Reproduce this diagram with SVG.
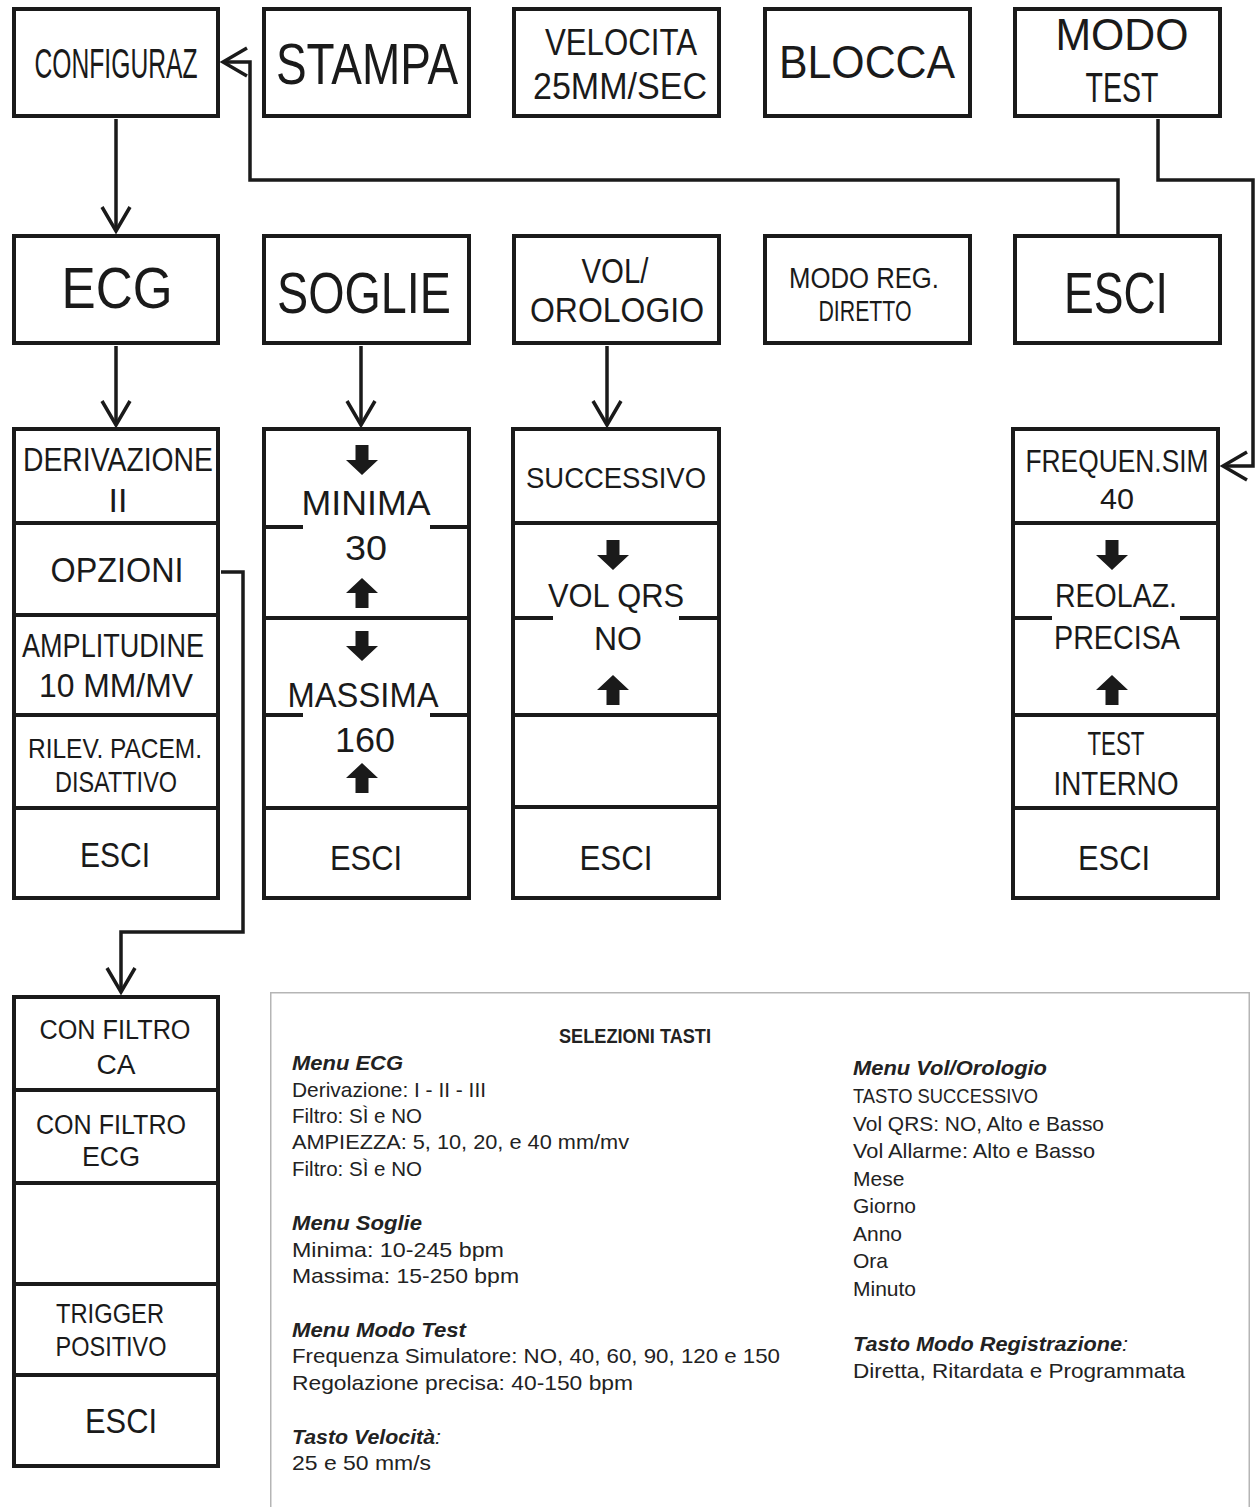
<svg xmlns="http://www.w3.org/2000/svg" width="1256" height="1507" viewBox="0 0 1256 1507">
<style>
.box{fill:#fff;stroke:#1a1a1a;stroke-width:4}
.div{stroke:#1a1a1a;stroke-width:4;fill:none}
.lbl{font-family:"Liberation Sans",Arial,sans-serif;fill:#1a1a1a;text-anchor:middle}
.con{fill:none;stroke:#1a1a1a;stroke-width:3.5;stroke-linejoin:miter}
.lg{font-family:"Liberation Sans",Arial,sans-serif;font-size:21px;fill:#222}
.lh{font-weight:bold;font-style:italic}
</style>
<defs>
<marker id="chev" viewBox="-28 -17 31 34" markerWidth="31" markerHeight="34" refX="0" refY="0" orient="auto" markerUnits="userSpaceOnUse">
<path d="M-24,-14 L0,0 L-24,14" fill="none" stroke="#1a1a1a" stroke-width="3.5"/>
</marker>
<path id="dn" d="M-6.5,0 H6.5 V15 H16 L0,30 L-16,15 H-6.5 Z" fill="#1a1a1a"/>
<path id="up" d="M-6.5,30 H6.5 V15 H16 L0,0 L-16,15 H-6.5 Z" fill="#1a1a1a"/>
</defs>
<rect width="1256" height="1507" fill="#fff"/>

<g id="connectors">
<path class="con" d="M116,119 V231" marker-end="url(#chev)"/>
<path class="con" d="M1118,234 V180 H250 V62 H223" marker-end="url(#chev)"/>
<path class="con" d="M1158,119 V180 H1253 V466 H1223" marker-end="url(#chev)"/>
<path class="con" d="M116,346 V425" marker-end="url(#chev)"/>
<path class="con" d="M361,346 V425" marker-end="url(#chev)"/>
<path class="con" d="M607,346 V425" marker-end="url(#chev)"/>
<path class="con" d="M221,572 H243 V932 H121 V992" marker-end="url(#chev)"/>
</g>

<g id="configuraz">
<rect class="box" x="14" y="9" width="204" height="107"/>
<text class="lbl" transform="translate(116,78) scale(0.574,1)" x="0" y="0" font-size="43" textLength="284" lengthAdjust="spacingAndGlyphs">CONFIGURAZ</text>
</g>
<g id="stampa">
<rect class="box" x="264" y="9" width="205" height="107"/>
<text class="lbl" transform="translate(367,84) scale(0.778,1)" x="0" y="0" font-size="57" textLength="234" lengthAdjust="spacingAndGlyphs">STAMPA</text>
</g>
<g id="velocita">
<rect class="box" x="514" y="9" width="205" height="107"/>
<text class="lbl" x="621" y="55" font-size="37" textLength="152" lengthAdjust="spacingAndGlyphs">VELOCITA</text>
<text class="lbl" x="620" y="99" font-size="37" textLength="174" lengthAdjust="spacingAndGlyphs">25MM/SEC</text>
</g>
<g id="blocca">
<rect class="box" x="765" y="9" width="205" height="107"/>
<text class="lbl" x="867" y="78" font-size="46" textLength="176" lengthAdjust="spacingAndGlyphs">BLOCCA</text>
</g>
<g id="modo-test">
<rect class="box" x="1015" y="9" width="205" height="107"/>
<text class="lbl" x="1122" y="50" font-size="44" textLength="133" lengthAdjust="spacingAndGlyphs">MODO</text>
<text class="lbl" x="1122" y="102" font-size="42" textLength="73" lengthAdjust="spacingAndGlyphs">TEST</text>
</g>

<g id="ecg">
<rect class="box" x="14" y="236" width="204" height="107"/>
<text class="lbl" x="117" y="308" font-size="57" textLength="111" lengthAdjust="spacingAndGlyphs">ECG</text>
</g>
<g id="soglie">
<rect class="box" x="264" y="236" width="205" height="107"/>
<text class="lbl" x="364" y="313" font-size="57" textLength="174" lengthAdjust="spacingAndGlyphs">SOGLIE</text>
</g>
<g id="vol-orologio">
<rect class="box" x="514" y="236" width="205" height="107"/>
<text class="lbl" x="615" y="283" font-size="35" textLength="67" lengthAdjust="spacingAndGlyphs">VOL/</text>
<text class="lbl" x="617" y="322" font-size="35" textLength="174" lengthAdjust="spacingAndGlyphs">OROLOGIO</text>
</g>
<g id="modo-reg">
<rect class="box" x="765" y="236" width="205" height="107"/>
<text class="lbl" x="864" y="288" font-size="30" textLength="150" lengthAdjust="spacingAndGlyphs">MODO REG.</text>
<text class="lbl" x="865" y="321" font-size="30" textLength="93" lengthAdjust="spacingAndGlyphs">DIRETTO</text>
</g>
<g id="esci-top">
<rect class="box" x="1015" y="236" width="205" height="107"/>
<text class="lbl" x="1116" y="313" font-size="57" textLength="104" lengthAdjust="spacingAndGlyphs">ESCI</text>
</g>

<g id="menu-ecg">
<rect class="box" x="14" y="429" width="204" height="469"/>
<path class="div" d="M12,523 H220 M12,615 H220 M12,715 H220 M12,808 H220"/>
<text class="lbl" x="118" y="471" font-size="34" textLength="190" lengthAdjust="spacingAndGlyphs">DERIVAZIONE</text>
<text class="lbl" x="118" y="512" font-size="34">II</text>
<text class="lbl" x="117" y="582" font-size="35" textLength="133" lengthAdjust="spacingAndGlyphs">OPZIONI</text>
<text class="lbl" x="113" y="657" font-size="34" textLength="182" lengthAdjust="spacingAndGlyphs">AMPLITUDINE</text>
<text class="lbl" x="116" y="697" font-size="34" textLength="154" lengthAdjust="spacingAndGlyphs">10 MM/MV</text>
<text class="lbl" x="115" y="758" font-size="28" textLength="174" lengthAdjust="spacingAndGlyphs">RILEV. PACEM.</text>
<text class="lbl" x="116" y="792" font-size="30" textLength="122" lengthAdjust="spacingAndGlyphs">DISATTIVO</text>
<text class="lbl" x="115" y="867" font-size="35" textLength="70" lengthAdjust="spacingAndGlyphs">ESCI</text>
</g>

<g id="menu-soglie">
<rect class="box" x="264" y="429" width="205" height="469"/>
<path class="div" d="M262,527 H303 M430,527 H471 M262,618 H471 M262,715 H303 M430,715 H471 M262,808 H471"/>
<use href="#dn" x="362" y="445"/>
<text class="lbl" x="366" y="515" font-size="35" textLength="129" lengthAdjust="spacingAndGlyphs">MINIMA</text>
<text class="lbl" x="366" y="560" font-size="35" textLength="42" lengthAdjust="spacingAndGlyphs">30</text>
<use href="#up" x="362" y="578"/>
<use href="#dn" x="362" y="631"/>
<text class="lbl" x="363" y="707" font-size="35" textLength="151" lengthAdjust="spacingAndGlyphs">MASSIMA</text>
<text class="lbl" x="365" y="752" font-size="35" textLength="60" lengthAdjust="spacingAndGlyphs">160</text>
<use href="#up" x="362" y="763"/>
<text class="lbl" x="366" y="870" font-size="35" textLength="72" lengthAdjust="spacingAndGlyphs">ESCI</text>
</g>

<g id="menu-vol">
<rect class="box" x="513" y="429" width="206" height="469"/>
<path class="div" d="M511,523 H721 M511,618 H553 M679,618 H721 M511,715 H721 M511,807 H721"/>
<text class="lbl" x="616" y="488" font-size="30" textLength="180" lengthAdjust="spacingAndGlyphs">SUCCESSIVO</text>
<use href="#dn" x="613" y="540"/>
<text class="lbl" x="616" y="607" font-size="34" textLength="136" lengthAdjust="spacingAndGlyphs">VOL QRS</text>
<text class="lbl" x="618" y="650" font-size="34" textLength="48" lengthAdjust="spacingAndGlyphs">NO</text>
<use href="#up" x="613" y="675"/>
<text class="lbl" x="616" y="870" font-size="35" textLength="73" lengthAdjust="spacingAndGlyphs">ESCI</text>
</g>

<g id="menu-test">
<rect class="box" x="1013" y="429" width="205" height="469"/>
<path class="div" d="M1011,523 H1220 M1011,618 H1052 M1180,618 H1220 M1011,715 H1220 M1011,808 H1220"/>
<text class="lbl" x="1117" y="472" font-size="31" textLength="183" lengthAdjust="spacingAndGlyphs">FREQUEN.SIM</text>
<text class="lbl" x="1117" y="509" font-size="30" textLength="34" lengthAdjust="spacingAndGlyphs">40</text>
<use href="#dn" x="1112" y="540"/>
<text class="lbl" x="1116" y="607" font-size="34" textLength="122" lengthAdjust="spacingAndGlyphs">REOLAZ.</text>
<text class="lbl" x="1117" y="649" font-size="34" textLength="126" lengthAdjust="spacingAndGlyphs">PRECISA</text>
<use href="#up" x="1112" y="675"/>
<text class="lbl" x="1116" y="755" font-size="34" textLength="57" lengthAdjust="spacingAndGlyphs">TEST</text>
<text class="lbl" x="1116" y="795" font-size="34" textLength="125" lengthAdjust="spacingAndGlyphs">INTERNO</text>
<text class="lbl" x="1114" y="870" font-size="35" textLength="72" lengthAdjust="spacingAndGlyphs">ESCI</text>
</g>

<g id="menu-opzioni">
<rect class="box" x="14" y="997" width="204" height="469"/>
<path class="div" d="M12,1090 H220 M12,1183 H220 M12,1284 H220 M12,1375 H220"/>
<text class="lbl" x="115" y="1039" font-size="27" textLength="151" lengthAdjust="spacingAndGlyphs">CON FILTRO</text>
<text class="lbl" x="116" y="1074" font-size="27" textLength="39" lengthAdjust="spacingAndGlyphs">CA</text>
<text class="lbl" x="111" y="1134" font-size="27" textLength="150" lengthAdjust="spacingAndGlyphs">CON FILTRO</text>
<text class="lbl" x="111" y="1166" font-size="27" textLength="58" lengthAdjust="spacingAndGlyphs">ECG</text>
<text class="lbl" x="110" y="1323" font-size="28" textLength="108" lengthAdjust="spacingAndGlyphs">TRIGGER</text>
<text class="lbl" x="111" y="1356" font-size="28" textLength="111" lengthAdjust="spacingAndGlyphs">POSITIVO</text>
<text class="lbl" x="121" y="1433" font-size="35" textLength="72" lengthAdjust="spacingAndGlyphs">ESCI</text>
</g>

<g id="legenda">
<rect x="270.75" y="992.75" width="978.5" height="530" fill="none" stroke="#b5b5b5" stroke-width="1.5"/>
<text class="lg" x="635" y="1043" font-size="18" font-weight="bold" text-anchor="middle" textLength="152" lengthAdjust="spacingAndGlyphs">SELEZIONI TASTI</text>
<text class="lg lh" x="292" y="1070" textLength="111" lengthAdjust="spacingAndGlyphs">Menu ECG</text>
<text class="lg" x="292" y="1097" textLength="194" lengthAdjust="spacingAndGlyphs">Derivazione: I - II - III</text>
<text class="lg" x="292" y="1123" textLength="130" lengthAdjust="spacingAndGlyphs">Filtro: SÌ e NO</text>
<text class="lg" x="292" y="1149" textLength="337" lengthAdjust="spacingAndGlyphs">AMPIEZZA: 5, 10, 20, e 40 mm/mv</text>
<text class="lg" x="292" y="1176" textLength="130" lengthAdjust="spacingAndGlyphs">Filtro: SÌ e NO</text>
<text class="lg lh" x="292" y="1230" textLength="130" lengthAdjust="spacingAndGlyphs">Menu Soglie</text>
<text class="lg" x="292" y="1257" textLength="212" lengthAdjust="spacingAndGlyphs">Minima: 10-245 bpm</text>
<text class="lg" x="292" y="1283" textLength="227" lengthAdjust="spacingAndGlyphs">Massima: 15-250 bpm</text>
<text class="lg lh" x="292" y="1337" textLength="174" lengthAdjust="spacingAndGlyphs">Menu Modo Test</text>
<text class="lg" x="292" y="1363" textLength="488" lengthAdjust="spacingAndGlyphs">Frequenza Simulatore: NO, 40, 60, 90, 120 e 150</text>
<text class="lg" x="292" y="1390" textLength="341" lengthAdjust="spacingAndGlyphs">Regolazione precisa: 40-150 bpm</text>
<text class="lg" x="292" y="1444" textLength="149" lengthAdjust="spacingAndGlyphs"><tspan class="lh">Tasto Velocità</tspan><tspan font-style="italic">:</tspan></text>
<text class="lg" x="292" y="1470" textLength="139" lengthAdjust="spacingAndGlyphs">25 e 50 mm/s</text>

<text class="lg lh" x="853" y="1075" textLength="194" lengthAdjust="spacingAndGlyphs">Menu Vol/Orologio</text>
<text class="lg" x="853" y="1103" textLength="185" lengthAdjust="spacingAndGlyphs">TASTO SUCCESSIVO</text>
<text class="lg" x="853" y="1131" textLength="251" lengthAdjust="spacingAndGlyphs">Vol QRS: NO, Alto e Basso</text>
<text class="lg" x="853" y="1158" textLength="242" lengthAdjust="spacingAndGlyphs">Vol Allarme: Alto e Basso</text>
<text class="lg" x="853" y="1186">Mese</text>
<text class="lg" x="853" y="1213">Giorno</text>
<text class="lg" x="853" y="1241">Anno</text>
<text class="lg" x="853" y="1268">Ora</text>
<text class="lg" x="853" y="1296">Minuto</text>
<text class="lg" x="853" y="1351" textLength="275" lengthAdjust="spacingAndGlyphs"><tspan class="lh">Tasto Modo Registrazione</tspan><tspan font-style="italic">:</tspan></text>
<text class="lg" x="853" y="1378" textLength="332" lengthAdjust="spacingAndGlyphs">Diretta, Ritardata e Programmata</text>
</g>
</svg>
